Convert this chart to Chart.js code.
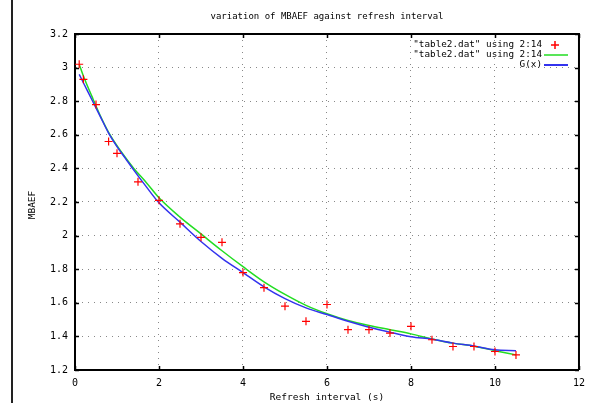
<!DOCTYPE html>
<html>
<head>
<meta charset="utf-8">
<script src="https://cdn.jsdelivr.net/npm/chart.js@4"></script>
<style>
  html, body { margin: 0; padding: 0; background: #fff; }
  #wrap { width: 592px; height: 403px; }
</style>
</head>
<body>
<div id="wrap"><canvas id="c" width="592" height="403"></canvas></div>
<script>
// measured points (red +)
const refreshX = [0.1, 0.2, 0.5, 0.8, 1, 1.5, 2, 2.5, 3, 3.5, 4, 4.5, 5, 5.5, 6, 6.5, 7, 7.5, 8, 8.5, 9, 9.5, 10, 10.5];
const mbaef = [3.02, 2.93, 2.78, 2.56, 2.49, 2.32, 2.21, 2.07, 1.99, 1.96, 1.78, 1.69, 1.58, 1.49, 1.59, 1.44, 1.44, 1.42, 1.46, 1.38, 1.34, 1.34, 1.31, 1.29];

// smoothed line (green)
const smoothX = [0.1, 0.2, 0.4, 0.6, 0.8, 1, 1.2, 1.4, 1.7, 2, 2.5, 3, 3.5, 4, 4.5, 5, 5.5, 6, 6.5, 7, 7.5, 8, 8.5, 9, 9.5, 10, 10.5];
const smoothY = [3.02, 2.95, 2.83, 2.715, 2.615, 2.535, 2.465, 2.4, 2.315, 2.225, 2.11, 2.01, 1.91, 1.815, 1.725, 1.65, 1.585, 1.535, 1.495, 1.465, 1.44, 1.415, 1.385, 1.36, 1.342, 1.315, 1.29];

// fitted G(x) (blue)
const fitX = [0.1, 0.2, 0.4, 0.6, 0.8, 1, 1.2, 1.4, 1.7, 2, 2.5, 3, 3.5, 4, 4.5, 5, 5.5, 6, 6.5, 7, 7.5, 8, 8.5, 9, 9.5, 10, 10.5];
const fitY = [2.96, 2.91, 2.81, 2.71, 2.61, 2.53, 2.46, 2.39, 2.29, 2.195, 2.08, 1.965, 1.865, 1.78, 1.695, 1.625, 1.57, 1.53, 1.49, 1.455, 1.425, 1.398, 1.383, 1.36, 1.343, 1.32, 1.315];

const legendLabels = ['"table2.dat" using 2:14', '"table2.dat" using 2:14', 'G(x)'];
const xTicks = [0, 2, 4, 6, 8, 10, 12];
const yTicks = [1.2, 1.4, 1.6, 1.8, 2, 2.2, 2.4, 2.6, 2.8, 3, 3.2];

const FONT = '"DejaVu Sans Mono", monospace';
const pts = (xs, ys) => xs.map((x, i) => ({ x: x, y: ys[i] }));

// title, frame, inward ticks, legend, axis titles
const gnuplotDecor = {
  id: 'gnuplotDecor',
  afterDraw(chart) {
    const ctx = chart.ctx;
    const a = chart.chartArea;
    const sx = chart.scales.x, sy = chart.scales.y;
    ctx.save();

    // page rule on the left
    ctx.strokeStyle = '#222';
    ctx.lineWidth = 2;
    ctx.beginPath(); ctx.moveTo(12, 0); ctx.lineTo(12, 403); ctx.stroke();

    // frame top/right
    ctx.strokeStyle = '#000';
    ctx.lineWidth = 2;
    ctx.beginPath();
    ctx.moveTo(a.left, a.top); ctx.lineTo(a.right, a.top); ctx.lineTo(a.right, a.bottom);
    ctx.stroke();

    // inward tick marks
    ctx.lineWidth = 1.5;
    ctx.beginPath();
    xTicks.forEach(v => {
      const p = Math.round(sx.getPixelForValue(v)) + 0.5;
      ctx.moveTo(p, a.bottom); ctx.lineTo(p, a.bottom - 4);
      ctx.moveTo(p, a.top); ctx.lineTo(p, a.top + 4);
    });
    yTicks.forEach(v => {
      const p = Math.round(sy.getPixelForValue(v)) + 0.5;
      ctx.moveTo(a.left, p); ctx.lineTo(a.left + 4, p);
      ctx.moveTo(a.right, p); ctx.lineTo(a.right - 4, p);
    });
    ctx.stroke();

    ctx.fillStyle = '#000';
    ctx.font = '9px ' + FONT;
    ctx.textBaseline = 'middle';

    // title
    ctx.textAlign = 'center';
    ctx.fillText('variation of MBAEF against refresh interval', 327, 17);

    // x axis title
    ctx.font = '9.5px ' + FONT;
    ctx.fillText('Refresh interval (s)', 327, 398);

    // y axis title
    ctx.save();
    ctx.translate(33, 205);
    ctx.rotate(-Math.PI / 2);
    ctx.fillText('MBAEF', 0, 0);
    ctx.restore();

    // legend
    const rows = [45, 55, 65];
    ctx.font = '9.3px ' + FONT;
    ctx.textAlign = 'right';
    legendLabels.forEach((t, i) => ctx.fillText(t, 542, rows[i]));
    ctx.strokeStyle = '#ff0000';
    ctx.lineWidth = 1.5;
    ctx.beginPath();
    ctx.moveTo(551, rows[0]); ctx.lineTo(559, rows[0]);
    ctx.moveTo(555, rows[0] - 4); ctx.lineTo(555, rows[0] + 4);
    ctx.stroke();
    ctx.lineWidth = 1.5;
    ctx.strokeStyle = '#22dd22';
    ctx.beginPath(); ctx.moveTo(544, rows[1]); ctx.lineTo(568, rows[1]); ctx.stroke();
    ctx.lineWidth = 2;
    ctx.strokeStyle = '#3333ee';
    ctx.beginPath(); ctx.moveTo(544, rows[2]); ctx.lineTo(568, rows[2]); ctx.stroke();

    ctx.restore();
  }
};

new Chart(document.getElementById('c'), {
  type: 'scatter',
  data: {
    datasets: [
      {
        label: legendLabels[0],
        data: pts(refreshX, mbaef),
        showLine: false,
        pointStyle: 'cross',
        pointRadius: 4,
        pointBorderWidth: 1.2,
        borderColor: '#ff0000',
        backgroundColor: '#ff0000',
        order: 0
      },
      {
        label: legendLabels[1],
        data: pts(smoothX, smoothY),
        showLine: true,
        pointRadius: 0,
        borderColor: '#22dd22',
        borderWidth: 1.5,
        cubicInterpolationMode: 'monotone',
        order: 2
      },
      {
        label: legendLabels[2],
        data: pts(fitX, fitY),
        showLine: true,
        pointRadius: 0,
        borderColor: '#3333ee',
        borderWidth: 1.5,
        cubicInterpolationMode: 'monotone',
        order: 1
      }
    ]
  },
  options: {
    responsive: false,
    animation: false,
    layout: { padding: { left: 0, right: 13, top: 34, bottom: 0 } },
    plugins: {
      legend: { display: false },
      title: { display: false },
      tooltip: { enabled: false }
    },
    scales: {
      x: {
        type: 'linear',
        min: 0,
        max: 12,
        afterFit(s) { s.height = 33; },
        ticks: {
          stepSize: 2,
          padding: 7,
          color: '#000',
          font: { family: FONT, size: 10 }
        },
        grid: { color: '#888', drawTicks: false, lineWidth: 1 },
        border: { display: true, color: '#000', width: 2, dash: [1, 5] }
      },
      y: {
        type: 'linear',
        min: 1.2,
        max: 3.2,
        afterFit(s) { s.width = 75; },
        ticks: {
          stepSize: 0.2,
          padding: 7,
          color: '#000',
          font: { family: FONT, size: 10 },
          callback: v => String(Math.round(v * 10) / 10)
        },
        grid: { color: '#888', drawTicks: false, lineWidth: 1 },
        border: { display: true, color: '#000', width: 2, dash: [1, 5] }
      }
    }
  },
  plugins: [gnuplotDecor]
});
</script>
</body>
</html>
